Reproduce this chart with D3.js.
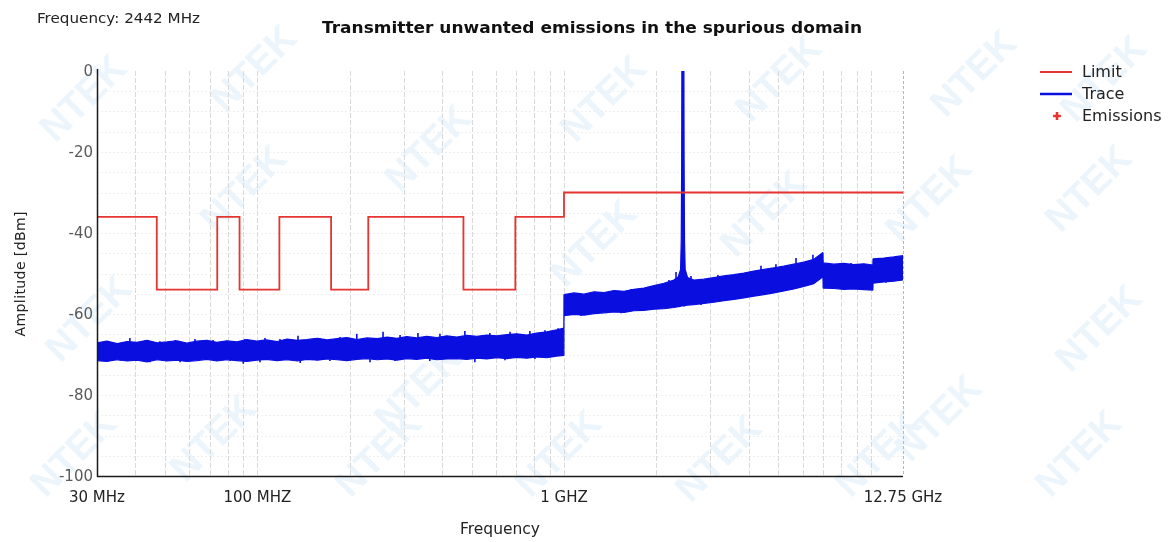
<!DOCTYPE html>
<html>
<head>
<meta charset="utf-8">
<script src="https://cdn.jsdelivr.net/npm/d3@7"></script>
<style>
  html, body { margin: 0; padding: 0; background: #ffffff; }
  svg { display: block; font-family: "DejaVu Sans", "Liberation Sans", Arial, sans-serif; }
</style>
</head>
<body>
<svg id="chart" width="1171" height="542"></svg>
<script>
// Limit mask: band start frequency (MHz) and level (dBm), held until the next start
const limitStartMHz = [30, 47, 74, 87.5, 118, 174, 230, 470, 694, 1000, 12750];
const limitDbm      = [-36, -54, -36, -54, -36, -54, -36, -54, -36, -30, -30];

// Measured trace envelope: frequency (MHz), upper and lower level (dBm)
const traceFreqMHz = [
  30, 32.3, 34.9, 37.6, 40.5, 43.7, 47.1, 50.7, 54.7, 58.9,
  63.5, 68.5, 73.8, 79.6, 85.8, 92.4, 99.6, 107, 116, 125,
  135, 145, 157, 169, 182, 196, 211, 228, 246, 265,
  285, 307, 331, 357, 385, 415, 447, 482, 520, 560,
  604, 651, 702, 756, 815, 879, 947, 999,
  1000, 1078, 1162, 1253, 1350, 1455, 1569, 1691, 1823, 1965,
  2118, 2283, 2360, 2400, 2412, 2420, 2424, 2460, 2464, 2472,
  2484, 2530, 2653, 2860, 3083, 3323, 3582, 3861, 4162, 4486,
  4836, 5212, 5618, 6056, 6528, 6990, 7000, 7585, 8175, 8813,
  9499, 10170, 10180, 11037, 11897, 12750
];
const traceMaxDbm = [
  -67.1, -66.7, -67.3, -66.8, -67.0, -66.5, -67.1, -66.9, -66.6, -67.2,
  -66.7, -66.5, -67.0, -66.6, -66.9, -66.3, -66.7, -66.4, -66.8, -66.2,
  -66.5, -66.3, -66.0, -66.4, -66.1, -65.8, -66.3, -65.9, -66.1, -65.7,
  -66.0, -65.6, -65.9, -65.5, -65.8, -65.4, -65.7, -65.3, -65.5, -65.2,
  -65.4, -65.1, -64.9, -65.2, -64.7, -64.4, -63.9, -63.5,
  -55.2, -54.8, -55.1, -54.5, -54.7, -54.2, -54.4, -53.9, -53.6, -53.0,
  -52.4, -51.6, -50.8, -49.0, -42.0, -22.0, 5, 5, -22.0, -42.0,
  -49.0, -51.0, -51.6, -51.4, -51.0, -50.6, -50.3, -49.9, -49.4, -49.0,
  -48.6, -48.2, -47.7, -47.2, -46.5, -44.8, -47.4, -47.7, -47.5, -47.8,
  -47.6, -47.9, -46.4, -46.2, -45.9, -45.6
];
const traceMinDbm = [
  -71.5, -71.7, -71.3, -71.6, -71.4, -71.8, -71.3, -71.6, -71.4, -71.7,
  -71.5, -71.2, -71.6, -71.3, -71.5, -71.7, -71.4, -71.2, -71.5, -71.3,
  -71.6, -71.2, -71.4, -71.1, -71.3, -71.5, -71.2, -71.0, -71.3, -71.1,
  -71.4, -71.0, -71.2, -70.9, -71.3, -71.1, -71.0, -71.2, -70.9, -71.1,
  -70.8, -71.0, -70.7, -70.9, -70.6, -70.8, -70.4, -70.2,
  -60.4, -60.1, -60.3, -59.9, -59.7, -59.5, -59.6, -59.2, -59.1, -58.8,
  -58.7, -58.4, -58.2, -58.1, -58.0, -58.0, -58.0, -58.0, -58.0, -58.0,
  -57.9, -57.8, -57.7, -57.4, -57.1, -56.7, -56.4, -56.0, -55.6, -55.2,
  -54.8, -54.3, -53.8, -53.2, -52.5, -50.8, -53.6, -53.7, -53.9, -53.8,
  -54.0, -54.1, -52.4, -52.1, -51.9, -51.6
];

// Isolated noise spikes standing out of the trace band (MHz, dBm)
const spikeFreqMHz = [
  32.6, 35.7, 38.4, 43.0, 44.7, 48.1, 53.9, 56.0, 62.6, 71.7,
  81.5, 90, 91.1, 102, 105.9, 118.5, 135.7, 138, 160, 172.5,
  186, 211, 233, 257, 281, 292, 334, 365, 394, 475,
  512, 573, 642, 667, 774, 804, 867, 956,
  1136, 1320, 1534, 1654, 1921, 2199, 2319, 2595, 2797, 3177,
  3503, 3921, 4389, 4911, 5498, 5709, 6484, 8003, 8627, 9299,
  10804, 11220, 12092
];
const spikeDbm = [
  -66.9, -71.6, -65.9, -66.9, -71.9, -66.7, -66.4, -71.9, -66.2, -66.4,
  -71.6, -72.3, -66.2, -71.9, -65.9, -66.2, -65.4, -72.1, -65.9, -71.6,
  -65.7, -64.9, -71.9, -64.4, -71.6, -65.2, -64.7, -71.6, -64.9, -64.2,
  -71.9, -64.7, -71.4, -64.4, -64.2, -71.1, -64.0, -63.5,
  -60.5, -54.6, -59.8, -53.8, -53.8, -51.6, -49.6, -50.6, -57.8, -50.4,
  -50.6, -55.6, -48.1, -47.7, -52.8, -46.2, -45.4, -53.6, -47.4, -54.1,
  -46.9, -52.3, -46.2
];

// Axis ticks
const yTicks = [0, -20, -40, -60, -80, -100];
const xTickMHz = [30, 100, 1000, 12750];
const xTickLabels = ["30 MHz", "100 MHZ", "1 GHZ", "12.75 GHz"];

// Legend entries
const legendNames = ["Limit", "Trace", "Emissions"];

const limitColor = "#e63530";
const traceColor = "#0a0fe0";

const svg = d3.select("#chart");
const plot = { left: 97, right: 903, top: 71, bottom: 476 };

const x = d3.scaleLog().domain([30, 12750]).range([plot.left, plot.right]);
const y = d3.scaleLinear().domain([-100, 0]).range([plot.bottom, plot.top]);

// Faint background watermark
const wm = svg.append("g").attr("fill", "#d9ebf6").attr("opacity", 0.5)
  .attr("font-family", "'Liberation Sans', Arial, sans-serif")
  .attr("font-weight", "bold").attr("font-size", 38);
const wmPos = [[85, 100], [255, 70], [430, 150], [605, 100], [780, 80], [975, 75], [1105, 80],
               [1090, 190], [930, 200], [765, 215], [595, 245], [245, 190],
               [90, 320], [1100, 330], [420, 390], [940, 420], [75, 455], [215, 440],
               [560, 455], [720, 460], [1080, 455], [380, 455], [880, 455]];
wmPos.forEach(([cx, cy]) => {
  wm.append("text").attr("x", cx).attr("y", cy)
    .attr("text-anchor", "middle").attr("dominant-baseline", "middle")
    .attr("transform", `rotate(-45 ${cx} ${cy})`).text("NTEK");
});

// Clip region for the plotted data
svg.append("defs").append("clipPath").attr("id", "plotClip")
  .append("rect").attr("x", plot.left).attr("y", plot.top)
  .attr("width", plot.right - plot.left).attr("height", plot.bottom - plot.top);

// Horizontal minor grid
const grid = svg.append("g");
grid.selectAll("line.h").data(d3.range(-95, 0, 5)).join("line")
  .attr("x1", plot.left).attr("x2", plot.right)
  .attr("y1", d => Math.round(y(d)) + 0.5).attr("y2", d => Math.round(y(d)) + 0.5)
  .attr("stroke", "#f0f0f0").attr("stroke-width", 1)
  .attr("stroke-dasharray", "2,2");

// Vertical grid, 1..9 per decade
const vGrid = [];
[10, 100, 1000, 10000].forEach(dec => {
  for (let m = 1; m <= 9; m++) {
    const f = dec * m;
    if (f > 30 && f < 12750) vGrid.push(f);
  }
});
grid.selectAll("line.v").data(vGrid).join("line")
  .attr("x1", d => Math.round(x(d)) + 0.5).attr("x2", d => Math.round(x(d)) + 0.5)
  .attr("y1", plot.top).attr("y2", plot.bottom)
  .attr("stroke", "#d9d9d9").attr("stroke-width", 1)
  .attr("stroke-dasharray", "5,2");
// Right edge
grid.append("line")
  .attr("x1", plot.right + 0.5).attr("x2", plot.right + 0.5)
  .attr("y1", plot.top).attr("y2", plot.bottom)
  .attr("stroke", "#b8b8b8").attr("stroke-dasharray", "3,2");

const data = svg.append("g").attr("clip-path", "url(#plotClip)");

// Trace band
const trace = traceFreqMHz.map((f, i) => ({ f, hi: traceMaxDbm[i], lo: traceMinDbm[i] }));
data.append("path").datum(trace)
  .attr("d", d3.area().x(d => x(d.f)).y0(d => y(d.lo)).y1(d => y(d.hi)))
  .attr("fill", traceColor).attr("stroke", traceColor).attr("stroke-width", 1.2)
  .attr("stroke-linejoin", "bevel");

// Spikes, drawn from the band edge out to their level
const hiAt = d3.scaleLog().domain(traceFreqMHz).range(traceMaxDbm);
const loAt = d3.scaleLog().domain(traceFreqMHz).range(traceMinDbm);
data.selectAll("line.spike").data(spikeFreqMHz.map((f, i) => ({ f, v: spikeDbm[i] }))).join("line")
  .attr("x1", d => x(d.f)).attr("x2", d => x(d.f))
  .attr("y1", d => y(d.v > (hiAt(d.f) + loAt(d.f)) / 2 ? hiAt(d.f) : loAt(d.f)))
  .attr("y2", d => y(d.v))
  .attr("stroke", traceColor).attr("stroke-width", 1.6);

// Limit line
const limit = limitStartMHz.map((f, i) => ({ f, v: limitDbm[i] }));
data.append("path").datum(limit)
  .attr("d", d3.line().x(d => x(d.f)).y(d => y(d.v)).curve(d3.curveStepAfter))
  .attr("fill", "none").attr("stroke", limitColor).attr("stroke-width", 1.8);

// Axes
const axisG = svg.append("g");
axisG.append("line")
  .attr("x1", plot.left + 0.5).attr("x2", plot.left + 0.5)
  .attr("y1", plot.top - 2).attr("y2", plot.bottom + 1)
  .attr("stroke", "#1a1a1a").attr("stroke-width", 1.5);
axisG.append("line")
  .attr("x1", plot.left).attr("x2", plot.right)
  .attr("y1", plot.bottom + 0.5).attr("y2", plot.bottom + 0.5)
  .attr("stroke", "#1a1a1a").attr("stroke-width", 1.5);

axisG.selectAll("text.yt").data(yTicks).join("text")
  .attr("x", plot.left - 4).attr("y", d => y(d))
  .attr("text-anchor", "end").attr("dominant-baseline", "middle")
  .attr("font-size", 15).attr("fill", "#5a5a5a").text(d => d);

axisG.selectAll("text.xt").data(xTickMHz).join("text")
  .attr("x", d => x(d)).attr("y", 502)
  .attr("text-anchor", "middle")
  .attr("font-size", 15).attr("fill", "#222").text((d, i) => xTickLabels[i]);

// Axis titles
svg.append("text").attr("x", 500).attr("y", 534)
  .attr("text-anchor", "middle").attr("font-size", 15.5).attr("fill", "#222")
  .text("Frequency");
svg.append("text").attr("transform", "translate(25,274) rotate(-90)")
  .attr("text-anchor", "middle").attr("font-size", 14).attr("fill", "#222")
  .attr("textLength", 125).attr("lengthAdjust", "spacing")
  .text("Amplitude [dBm]");

// Title and header
svg.append("text").attr("x", 592).attr("y", 33)
  .attr("text-anchor", "middle").attr("font-size", 15.5).attr("font-weight", "bold")
  .attr("textLength", 540).attr("lengthAdjust", "spacingAndGlyphs")
  .attr("fill", "#111").text("Transmitter unwanted emissions in the spurious domain");
svg.append("text").attr("x", 37).attr("y", 23)
  .attr("font-size", 14).attr("fill", "#222")
  .attr("textLength", 163).attr("lengthAdjust", "spacingAndGlyphs")
  .text("Frequency: 2442 MHz");

// Legend
const lg = svg.append("g");
const legendY = [72, 94, 116];
lg.append("line").attr("x1", 1040).attr("x2", 1072).attr("y1", legendY[0]).attr("y2", legendY[0])
  .attr("stroke", limitColor).attr("stroke-width", 2);
lg.append("line").attr("x1", 1040).attr("x2", 1072).attr("y1", legendY[1]).attr("y2", legendY[1])
  .attr("stroke", traceColor).attr("stroke-width", 2.5);
lg.append("path").attr("d", d3.symbol(d3.symbolCross, 34)())
  .attr("transform", `translate(1057,${legendY[2]})`).attr("fill", limitColor);
lg.selectAll("text").data(legendNames).join("text")
  .attr("x", 1082).attr("y", (d, i) => legendY[i])
  .attr("dominant-baseline", "middle").attr("font-size", 16).attr("fill", "#222")
  .text(d => d);
</script>
</body>
</html>
